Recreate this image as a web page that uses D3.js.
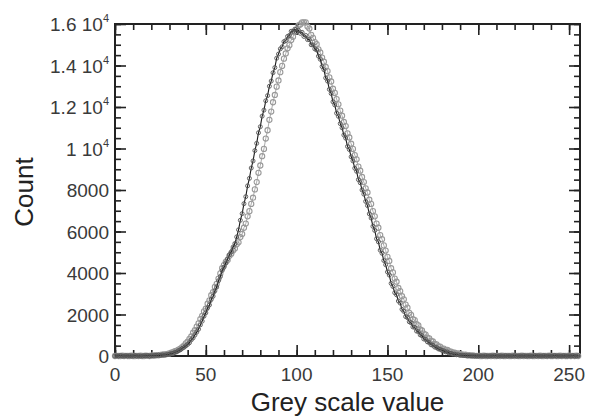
<!DOCTYPE html>
<html>
<head>
<meta charset="utf-8">
<script src="https://cdn.jsdelivr.net/npm/d3@7"></script>
<style>
  body { margin: 0; background: #fff; }
  svg { display: block; font-family: "Liberation Sans", Arial, sans-serif; }
</style>
</head>
<body>
<div id="chart"></div>
<script>
// grey level histograms, one count per grey level 0..255
const countsBlack = [
    0,10,0,20,0,0,15,0,10,0, 0,20,0,10,0,0,15,10,20,0,
    20,10,35,25,40,30,55,45,60,75,
    90,120,130,180,200,260,300,370,420,490,
    560,640,780,870,1010,1150,1290,1500,1680,1920,
    2080,2320,2460,2730,2880,3140,3320,3630,3830,4120,
    4280,4480,4680,4880,5020,5250,5420,5740,6080,6540,
    6860,7340,7680,8200,8560,9060,9400,9900,10250,10760,
    11050,11560,11850,12300,12550,13000,13250,13650,13900,14350,
    14550,14800,14900,15150,15200,15400,15450,15650,15650,15750,
    15600,15700,15550,15600,15400,15450,15250,15250,15000,14990,
    14800,14750,14450,14300,13950,13800,13400,13250,12850,12650,
    12250,12100,11700,11550,11200,11000,10650,10500,10100,9950,
    9600,9400,9050,8900,8500,8350,8000,7800,7450,7250,
    6850,6650,6250,6050,5650,5500,5100,4950,4600,4400,
    4050,3900,3500,3350,3050,2950,2650,2550,2250,2150,
    1900,1850,1650,1600,1400,1380,1200,1180,1020,980,
    820,800,680,650,540,520,430,410,340,320,
    270,250,200,190,140,130,90,90,60,60,
    35,40,25,30,15,20,10,10,5,5,
    0,10,0,0,15,0,0,10,0,20, 0,0,10,0,0,15,0,10,0,0,
    20,0,0,10,0,15,0,0,10,0, 0,20,0,10,0,0,15,0,0,10,
    0,0,20,0,10,0,0,15,0,0, 10,0,20,0,0,10
]
const countsGrey = [
    0,10,0,0,15,0,10,0,0,20, 0,0,10,0,15,0,0,20,10,0,
    20,30,20,45,35,55,60,75,80,105,
    120,160,180,230,260,310,360,430,500,610,
    690,830,940,1120,1240,1420,1570,1780,1930,2150,
    2280,2520,2680,2930,3080,3330,3480,3730,3980,4230,
    4380,4530,4630,4830,4930,5080,5180,5380,5480,5730,
    5880,6180,6380,6730,6980,7330,7630,8030,8380,8830,
    9180,9630,9980,10480,10880,11380,11780,12230,12580,12980,
    13280,13680,13980,14330,14580,14830,14980,15230,15380,15630,
    15730,15930,15980,16080,16080,16080,15880,15780,15480,15330,
    15130,15030,14780,14630,14380,14180,13930,13730,13430,13230,
    12880,12680,12380,12130,11830,11580,11280,11080,10730,10530,
    10230,9980,9680,9480,9130,8930,8630,8380,8080,7880,
    7530,7330,6980,6730,6380,6180,5830,5630,5330,5080,
    4780,4580,4230,4030,3730,3580,3280,3130,2880,2730,
    2480,2330,2080,1980,1780,1730,1530,1480,1280,1230,
    1080,1030,880,850,730,700,580,560,460,450,
    360,360,290,290,220,210,160,160,110,120,
    80,80,50,60,30,40,20,25,10,10,
    10,0,0,15,0,0,10,0,20,0, 0,10,0,15,0,0,10,0,0,20,
    0,10,0,0,15,0,10,0,0,20, 0,0,10,0,15,0,0,10,0,20,
    0,0,10,0,0,15,0,10,0,0, 20,0,10,0,15,0
]
const greyLevels = d3.range(countsBlack.length)
const xTicks = [0, 50, 100, 150, 200, 250]
const yTicks = [0, 2000, 4000, 6000, 8000, 10000, 12000, 14000, 16000]

const width = 592
const height = 416
const margin = {top: 24, right: 12, bottom: 60, left: 115}

const svg = d3.select('#chart')
    .append('svg')
    .attr('width', width)
    .attr('height', height)

const x = d3.scaleLinear()
    .domain([0, 256])
    .range([margin.left, width - margin.right])
const y = d3.scaleLinear()
    .domain([0, 16000])
    .range([height - margin.bottom, margin.top])

// frame ticks, all pointing inward
function addTicks(axis, transform, major, minor) {
    const g = svg.append('g').attr('transform', transform)
    g.call(axis.tickValues(minor).tickSize(6).tickFormat(''))
    g.select('.domain').remove()
    const g2 = svg.append('g').attr('transform', transform)
    g2.call(axis.tickValues(major).tickSize(11).tickFormat(''))
    g2.select('.domain').remove()
    svg.selectAll('.tick line').attr('stroke', '#222').attr('stroke-width', 1.6)
}
const xMinor = d3.range(0, 257, 10)
const yMinor = d3.range(0, 16001, 500)
addTicks(d3.axisTop(x), `translate(0,${y(0)})`, xTicks, xMinor)
addTicks(d3.axisBottom(x), `translate(0,${y(16000)})`, xTicks, xMinor)
addTicks(d3.axisRight(y), `translate(${x(0)},0)`, yTicks, yMinor)
addTicks(d3.axisLeft(y), `translate(${x(256)},0)`, yTicks, yMinor)

svg.append('rect')
    .attr('x', x(0))
    .attr('y', y(16000))
    .attr('width', x(256) - x(0))
    .attr('height', y(0) - y(16000))
    .attr('fill', 'none')
    .attr('stroke', '#222')
    .attr('stroke-width', 2)

// tick labels
svg.selectAll('.xlab')
    .data(xTicks)
    .enter()
    .append('text')
    .attr('x', d => x(d))
    .attr('y', y(0) + 25)
    .attr('text-anchor', 'middle')
    .attr('font-size', 19)
    .attr('fill', '#3a3a3a')
    .text(d => d)

const ylab = svg.selectAll('.ylab')
    .data(yTicks)
    .enter()
    .append('text')
    .attr('x', x(0) - 6)
    .attr('y', d => y(d) + 7)
    .attr('text-anchor', 'end')
    .attr('font-size', 19)
    .attr('fill', '#3a3a3a')
ylab.each(function(d) {
    const t = d3.select(this)
    if (d >= 10000) {
        t.append('tspan').text(d3.format('~g')(d / 10000) + ' 10')
        t.append('tspan').attr('dy', -9).attr('font-size', 11).text('4')
    } else {
        t.text(d)
    }
})

// axis titles
svg.append('text')
    .attr('x', (x(0) + x(256)) / 2)
    .attr('y', 411)
    .attr('text-anchor', 'middle')
    .attr('font-size', 26)
    .attr('fill', '#222')
    .text('Grey scale value')
svg.append('text')
    .attr('transform', `translate(33,${(y(0) + y(16000)) / 2 + 2}) rotate(-90)`)
    .attr('text-anchor', 'middle')
    .attr('font-size', 26)
    .attr('fill', '#222')
    .text('Count')

const line = d3.line()
    .x((d, i) => x(greyLevels[i]))
    .y(d => y(d))

// grey series: open circles
svg.append('path')
    .datum(countsGrey)
    .attr('d', line)
    .attr('fill', 'none')
    .attr('stroke', '#aaa')
    .attr('stroke-width', 1)
svg.selectAll('.grey')
    .data(countsGrey)
    .enter()
    .append('circle')
    .attr('cx', (d, i) => x(greyLevels[i]))
    .attr('cy', d => y(d))
    .attr('r', 2.6)
    .attr('fill', 'none')
    .attr('stroke', '#999')
    .attr('stroke-width', 1.1)

// black series
svg.append('path')
    .datum(countsBlack)
    .attr('d', line)
    .attr('fill', 'none')
    .attr('stroke', '#1a1a1a')
    .attr('stroke-width', 1.1)
svg.selectAll('.black')
    .data(countsBlack)
    .enter()
    .append('circle')
    .attr('cx', (d, i) => x(greyLevels[i]))
    .attr('cy', d => y(d))
    .attr('r', 2)
    .attr('fill', 'none')
    .attr('stroke', '#555')
    .attr('stroke-width', 0.9)
</script>
</body>
</html>
